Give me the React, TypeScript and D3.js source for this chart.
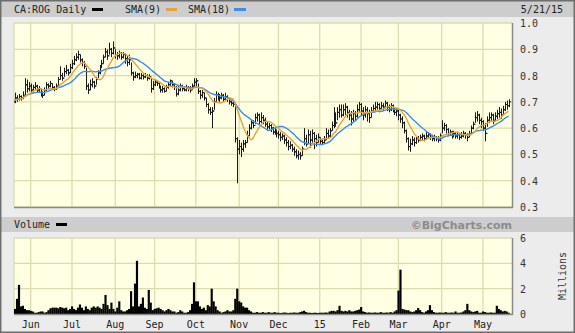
import React from "react";
import * as d3 from "d3";

// ---- data (trading-day index 0 = 2014-05-20 ... 252 = 2015-05-21) ----
const closes = [
  0.700,0.715,0.710,0.720,0.715,0.725,0.765,0.750,0.760,0.745,
  0.755,0.760,0.745,0.750,0.730,0.725,0.745,0.765,0.760,0.770,
  0.755,0.750,0.760,0.785,0.800,0.790,0.815,0.820,0.810,0.830,
  0.845,0.860,0.870,0.880,0.860,0.850,0.835,0.760,0.745,0.765,
  0.775,0.760,0.785,0.810,0.830,0.845,0.870,0.890,0.875,0.900,
  0.885,0.905,0.880,0.875,0.885,0.870,0.880,0.865,0.850,0.860,
  0.810,0.795,0.800,0.805,0.790,0.800,0.795,0.800,0.790,0.795,
  0.750,0.765,0.775,0.770,0.760,0.745,0.750,0.740,0.755,0.765,
  0.780,0.765,0.755,0.730,0.745,0.760,0.750,0.745,0.755,0.750,
  0.745,0.760,0.775,0.780,0.740,0.725,0.735,0.715,0.690,0.670,
  0.660,0.665,0.700,0.725,0.720,0.715,0.725,0.710,0.720,0.715,
  0.700,0.695,0.690,0.560,0.520,0.530,0.520,0.540,0.545,0.570,
  0.600,0.620,0.610,0.640,0.650,0.625,0.640,0.630,0.615,0.605,
  0.610,0.600,0.585,0.590,0.580,0.575,0.565,0.570,0.555,0.545,
  0.530,0.535,0.520,0.510,0.495,0.500,0.495,0.520,0.560,0.540,
  0.575,0.555,0.580,0.560,0.545,0.565,0.550,0.545,0.555,0.580,
  0.570,0.590,0.610,0.650,0.620,0.660,0.670,0.650,0.670,0.680,
  0.660,0.650,0.635,0.655,0.645,0.670,0.690,0.665,0.650,0.670,
  0.655,0.640,0.665,0.675,0.680,0.690,0.675,0.685,0.680,0.695,
  0.680,0.670,0.685,0.675,0.660,0.665,0.650,0.635,0.620,0.590,
  0.560,0.530,0.540,0.555,0.545,0.560,0.555,0.565,0.570,0.560,
  0.570,0.575,0.565,0.560,0.565,0.560,0.555,0.570,0.600,0.610,
  0.595,0.580,0.585,0.575,0.580,0.570,0.575,0.565,0.570,0.580,
  0.575,0.565,0.580,0.600,0.615,0.640,0.650,0.630,0.625,0.600,
  0.580,0.630,0.640,0.650,0.630,0.645,0.655,0.660,0.650,0.670,
  0.690,0.685,0.700,
];

const highs = [
  0.720,0.735,0.725,0.730,0.725,0.740,0.790,0.785,0.775,0.770,
  0.765,0.775,0.765,0.760,0.750,0.740,0.755,0.775,0.770,0.780,
  0.770,0.760,0.770,0.795,0.835,0.810,0.830,0.840,0.825,0.845,
  0.860,0.875,0.885,0.895,0.880,0.865,0.855,0.830,0.770,0.785,
  0.790,0.780,0.795,0.820,0.840,0.860,0.880,0.905,0.900,0.925,
  0.905,0.930,0.900,0.890,0.895,0.890,0.890,0.885,0.875,0.880,
  0.850,0.815,0.815,0.810,0.810,0.810,0.805,0.810,0.805,0.805,
  0.790,0.780,0.785,0.780,0.775,0.760,0.760,0.755,0.765,0.775,
  0.785,0.780,0.770,0.760,0.760,0.770,0.765,0.760,0.765,0.760,
  0.760,0.770,0.790,0.790,0.770,0.745,0.745,0.735,0.715,0.695,
  0.680,0.680,0.715,0.740,0.735,0.730,0.735,0.730,0.735,0.725,
  0.715,0.705,0.700,0.690,0.565,0.555,0.545,0.555,0.555,0.590,
  0.615,0.630,0.630,0.655,0.660,0.655,0.660,0.650,0.640,0.625,
  0.620,0.615,0.605,0.600,0.595,0.590,0.585,0.580,0.575,0.565,
  0.555,0.550,0.540,0.530,0.520,0.515,0.510,0.530,0.600,0.575,
  0.595,0.590,0.595,0.585,0.575,0.580,0.565,0.560,0.570,0.600,
  0.595,0.600,0.625,0.680,0.660,0.680,0.690,0.690,0.690,0.695,
  0.685,0.670,0.665,0.670,0.665,0.690,0.700,0.695,0.680,0.685,
  0.680,0.670,0.680,0.690,0.700,0.700,0.695,0.700,0.695,0.705,
  0.700,0.690,0.695,0.690,0.680,0.675,0.670,0.655,0.645,0.625,
  0.595,0.565,0.560,0.570,0.565,0.570,0.570,0.575,0.580,0.575,
  0.585,0.585,0.580,0.575,0.575,0.570,0.570,0.580,0.630,0.620,
  0.615,0.600,0.595,0.590,0.590,0.585,0.585,0.580,0.585,0.590,
  0.585,0.580,0.590,0.610,0.625,0.660,0.665,0.655,0.640,0.630,
  0.620,0.645,0.660,0.660,0.655,0.660,0.670,0.680,0.675,0.685,
  0.700,0.705,0.710,
];

const lows = [
  0.680,0.695,0.700,0.705,0.705,0.710,0.720,0.735,0.740,0.730,
  0.735,0.745,0.735,0.735,0.720,0.715,0.725,0.740,0.750,0.755,
  0.745,0.740,0.745,0.760,0.785,0.780,0.795,0.805,0.800,0.810,
  0.825,0.840,0.855,0.860,0.850,0.835,0.825,0.745,0.730,0.745,
  0.755,0.750,0.765,0.790,0.805,0.830,0.845,0.870,0.860,0.880,
  0.870,0.880,0.865,0.860,0.865,0.860,0.865,0.845,0.835,0.840,
  0.800,0.780,0.790,0.790,0.785,0.785,0.785,0.790,0.780,0.785,
  0.735,0.745,0.760,0.760,0.750,0.735,0.735,0.735,0.740,0.750,
  0.760,0.755,0.745,0.720,0.725,0.740,0.740,0.740,0.740,0.740,
  0.735,0.745,0.755,0.760,0.730,0.710,0.715,0.705,0.680,0.655,
  0.650,0.600,0.670,0.700,0.705,0.700,0.710,0.700,0.705,0.700,
  0.690,0.685,0.680,0.545,0.390,0.500,0.490,0.510,0.525,0.545,
  0.570,0.595,0.600,0.615,0.625,0.615,0.620,0.615,0.605,0.590,
  0.595,0.585,0.575,0.575,0.565,0.560,0.550,0.555,0.540,0.530,
  0.515,0.520,0.510,0.495,0.485,0.480,0.480,0.495,0.535,0.530,
  0.540,0.525,0.545,0.520,0.530,0.545,0.540,0.535,0.540,0.555,
  0.560,0.565,0.590,0.600,0.605,0.630,0.640,0.640,0.645,0.650,
  0.640,0.630,0.610,0.625,0.630,0.640,0.660,0.650,0.630,0.640,
  0.625,0.620,0.640,0.660,0.665,0.670,0.660,0.670,0.665,0.675,
  0.665,0.660,0.665,0.660,0.650,0.645,0.630,0.620,0.600,0.580,
  0.545,0.515,0.510,0.535,0.530,0.540,0.545,0.550,0.555,0.550,
  0.555,0.560,0.555,0.550,0.550,0.550,0.545,0.550,0.580,0.590,
  0.580,0.570,0.570,0.560,0.565,0.560,0.560,0.555,0.560,0.565,
  0.560,0.550,0.565,0.580,0.595,0.620,0.625,0.615,0.600,0.590,
  0.550,0.605,0.620,0.625,0.615,0.630,0.635,0.640,0.635,0.650,
  0.665,0.670,0.680,
];

// volume in millions
const volumes = [
  0.3,0.4,1.2,2.3,0.6,0.65,0.4,0.3,0.3,0.25,
  0.2,0.1,0.1,0.15,0.2,0.2,0.1,0.15,0.3,0.45,
  0.5,0.5,0.5,0.45,0.55,0.5,0.45,0.5,0.3,0.4,
  0.6,0.4,0.3,0.5,0.75,0.5,0.3,0.6,0.4,0.3,
  0.5,0.6,0.5,0.6,0.5,0.4,0.8,1.5,0.7,0.4,
  0.9,0.4,0.2,0.5,1.0,0.3,0.2,0.2,0.3,0.4,
  1.8,0.6,2.4,4.2,0.6,0.8,1.3,0.5,0.4,1.9,
  0.9,0.3,0.4,0.45,0.5,0.4,0.3,0.2,0.3,0.4,
  0.3,0.2,0.2,0.1,0.15,0.3,0.2,0.1,0.1,0.15,
  0.3,0.8,2.5,1.0,1.0,0.6,0.4,0.5,0.3,0.7,
  0.6,2.0,1.0,0.6,0.3,0.2,0.1,0.15,0.2,0.3,
  0.2,0.2,0.3,1.2,2.0,1.0,0.9,0.6,0.5,0.5,
  0.3,0.2,0.1,0.1,0.15,0.1,0.1,0.15,0.1,0.1,
  0.15,0.1,0.1,0.15,0.1,0.1,0.08,0.1,0.12,0.1,
  0.08,0.1,0.1,0.12,0.1,0.1,0.15,0.2,0.26,0.15,
  0.1,0.1,0.08,0.1,0.1,0.08,0.1,0.1,0.1,0.12,
  0.1,0.2,0.25,0.25,0.2,0.3,0.65,0.25,0.2,0.25,
  0.2,0.3,0.2,0.2,0.25,0.3,0.35,0.55,0.2,0.15,
  0.1,0.12,0.1,0.1,0.12,0.1,0.1,0.15,0.1,0.1,
  0.12,0.1,0.15,0.1,0.2,0.3,1.85,3.5,0.4,0.35,
  0.3,0.3,0.2,0.15,0.2,0.3,0.47,0.3,0.15,0.1,
  0.2,0.3,0.7,0.3,0.15,0.1,0.1,0.12,0.1,0.1,
  0.15,0.1,0.1,0.12,0.1,0.2,0.1,0.1,0.12,0.2,
  0.3,0.8,0.3,0.2,0.15,0.2,0.25,0.1,0.1,0.2,
  0.15,0.1,0.1,0.12,0.1,0.1,0.65,0.4,0.3,0.2,
  0.25,0.2,0.1,
];

const monthLabels = ["Jun","Jul","Aug","Sep","Oct","Nov","Dec","15","Feb","Mar","Apr","May"];
const monthStarts = [9,30,52,72,93,115,135,156,177,196,218,239];
const priceTicks = [1.0,0.9,0.8,0.7,0.6,0.5,0.4,0.3];
const volTicks = [6,4,2,0];

const FONT = "'DejaVu Sans Mono', monospace";
const BG = "#ececec";
const BAR = "#cdcdcd";
const PLOT_BG = "#ffffe4";
const GRID = "#dcdcae";
const ORANGE = "#e3a43e";
const BLUE = "#3d8ee6";

export default function App() {
  const L = 14, R = 512;
  const PT = 23, PB = 207;
  const VT = 238, VB = 314;
  const N = closes.length;
  const x = d3.scaleLinear().domain([0, 253]).range([13, 510.5]);
  const yP = d3.scaleLinear().domain([0.3, 1.0]).range([PB, PT]);
  const yV = d3.scaleLinear().domain([0, 6]).range([VB, VT]);
  const step = x(1) - x(0);

  const sma = (n: number) =>
    closes.map((_, i) => d3.mean(closes.slice(Math.max(0, i - n + 1), i + 1)) as number);
  const line = d3
    .line<number>()
    .x((_, i) => x(i))
    .y((d) => yP(d))
    .curve(d3.curveMonotoneX);
  const sma9 = line(sma(9)) || "";
  const sma18 = line(sma(18)) || "";

  return (
    <svg
      width={575}
      height={333}
      style={{ position: "absolute", left: 0, top: 0 }}
      fontFamily={FONT}
    >
      <defs>
        <clipPath id="pclip">
          <rect x={L} y={PT} width={R - L} height={PB - PT} />
        </clipPath>
        <clipPath id="vclip">
          <rect x={L} y={VT} width={R - L} height={VB - VT} />
        </clipPath>
      </defs>
      <rect x={0} y={0} width={575} height={333} fill={BG} />
      {/* header bars */}
      <rect x={0} y={0} width={575} height={17} fill={BAR} />
      <rect x={0} y={217} width={575} height={15} fill={BAR} />

      {/* header legend */}
      <text x={14} y={13} fontSize={10} fill="#222">CA:ROG Daily</text>
      <rect x={92} y={8} width={11} height={3} fill="#000" />
      <text x={125} y={13} fontSize={10} fill="#222">SMA(9)</text>
      <rect x={166} y={8} width={11} height={3} fill={ORANGE} />
      <text x={188} y={13} fontSize={10} fill="#222">SMA(18)</text>
      <rect x={234} y={8} width={12} height={3} fill={BLUE} />
      <text x={563} y={13} fontSize={10} fill="#222" textAnchor="end">5/21/15</text>

      {/* price panel */}
      <rect x={L} y={PT} width={R - L} height={PB - PT} fill={PLOT_BG} />
      {priceTicks.map((t) => (
        <line key={"pg" + t} x1={L} x2={R} y1={yP(t)} y2={yP(t)} stroke={GRID} strokeWidth={1.3} />
      ))}
      {monthStarts.map((m) => (
        <line key={"pv" + m} x1={x(m)} x2={x(m)} y1={PT} y2={PB} stroke={GRID} strokeWidth={1.3} />
      ))}
      <line x1={L} x2={L} y1={PT} y2={PB} stroke={GRID} strokeWidth={1.3} />
      <g clipPath="url(#pclip)">
        {closes.map((c, i) => {
          const cx = Math.round(x(i)) + 0.5;
          const open = i > 0 ? closes[i - 1] : c;
          return (
            <g key={"b" + i} stroke="#1a1a1a" strokeWidth={1}>
              <line x1={cx} x2={cx} y1={yP(highs[i])} y2={yP(lows[i])} />
              <line x1={cx} x2={cx + 1.5} y1={yP(c)} y2={yP(c)} />
              <line x1={cx - 1.5} x2={cx} y1={yP(open)} y2={yP(open)} />
            </g>
          );
        })}
        <path d={sma18} fill="none" stroke={BLUE} strokeWidth={1.4} />
        <path d={sma9} fill="none" stroke={ORANGE} strokeWidth={1.4} />
      </g>
      <line x1={L} x2={R + 1} y1={PB + 0.5} y2={PB + 0.5} stroke="#8a8a8a" strokeWidth={1.5} />
      <line x1={R + 0.5} x2={R + 0.5} y1={PT} y2={PB + 1} stroke="#8a8a8a" strokeWidth={1.5} />
      {priceTicks.map((t) => (
        <text key={"pl" + t} x={520} y={yP(t) + 4} fontSize={10} fill="#333">
          {t.toFixed(1)}
        </text>
      ))}

      {/* volume header */}
      <text x={14} y={228} fontSize={10} fill="#222">Volume</text>
      <rect x={56} y={223} width={11} height={3} fill="#000" />
      <text
        x={512}
        y={229}
        fontSize={11}
        fontWeight="bold"
        fill="#8c8c8c"
        textAnchor="end"
        fontFamily="'DejaVu Sans', sans-serif"
      >
        ©BigCharts.com
      </text>

      {/* volume panel */}
      <rect x={L} y={VT} width={R - L} height={VB - VT} fill={PLOT_BG} />
      {volTicks.map((t) => (
        <line key={"vg" + t} x1={L} x2={R} y1={yV(t)} y2={yV(t)} stroke={GRID} strokeWidth={1.3} />
      ))}
      {monthStarts.map((m) => (
        <line key={"vv" + m} x1={x(m)} x2={x(m)} y1={VT} y2={VB} stroke={GRID} strokeWidth={1.3} />
      ))}
      <line x1={L} x2={L} y1={VT} y2={VB} stroke={GRID} strokeWidth={1.3} />
      <g clipPath="url(#vclip)">
        {volumes.map((v, i) => (
          <rect
            key={"v" + i}
            x={x(i) - step / 2}
            y={yV(v)}
            width={step + 0.2}
            height={yV(0) - yV(v)}
            fill="#000"
          />
        ))}
      </g>
      <line x1={L} x2={R + 1} y1={VB + 0.5} y2={VB + 0.5} stroke="#8a8a8a" strokeWidth={1.5} />
      <line x1={R + 0.5} x2={R + 0.5} y1={VT} y2={VB + 1} stroke="#8a8a8a" strokeWidth={1.5} />
      {volTicks.map((t) => (
        <text key={"vl" + t} x={520} y={yV(t) + 4} fontSize={10} fill="#333">
          {t}
        </text>
      ))}
      <text
        transform="translate(566,276) rotate(-90)"
        fontSize={10}
        fill="#333"
        textAnchor="middle"
      >
        Millions
      </text>

      {/* month labels */}
      {monthStarts.map((m, k) => (
        <text key={"ml" + m} x={x(m)} y={328} fontSize={10} fill="#222" textAnchor="middle">
          {monthLabels[k]}
        </text>
      ))}

      {/* outer frame */}
      <rect x={0.75} y={0.75} width={573.5} height={331.5} fill="none" stroke="#6e6e6e" strokeWidth={1.5} />
      {N === 0 ? null : null}
    </svg>
  );
}
